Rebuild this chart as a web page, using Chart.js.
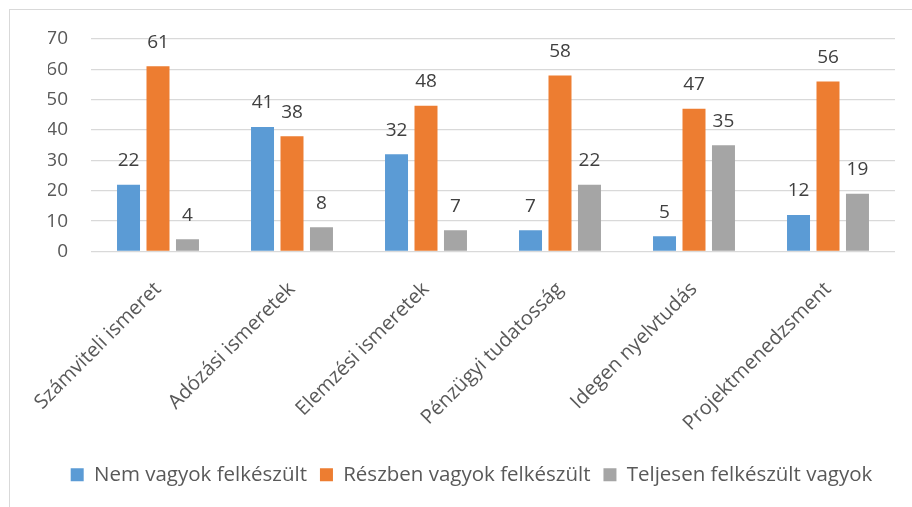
<!DOCTYPE html>
<html>
<head>
<meta charset="utf-8">
<script src="https://cdn.jsdelivr.net/npm/chart.js@4.4.0/dist/chart.umd.min.js"></script>
<style>
  html, body { margin: 0; padding: 0; background: #fff; overflow: hidden; }
  #wrap { position: relative; width: 912px; height: 507px; }
  #frame { position: absolute; left: 9px; top: 9px; width: 920px; height: 520px; border: 1.5px solid #d9d9d9; }
  #myChart { position: absolute; left: 0; top: 0; }
</style>
</head>
<body>
<div id="wrap">
  <div id="frame"></div>
  <canvas id="myChart" width="912" height="507"></canvas>
</div>
<script>
// categories and series
var categories = ['Számviteli ismeret', 'Adózási ismeretek', 'Elemzési ismeretek', 'Pénzügyi tudatosság', 'Idegen nyelvtudás', 'Projektmenedzsment'];
var nemFelkeszult = [22, 41, 32, 7, 5, 12];
var reszbenFelkeszult = [61, 38, 48, 58, 47, 56];
var teljesenFelkeszult = [4, 8, 7, 22, 35, 19];
var seriesNames = ['Nem vagyok felkészült', 'Részben vagyok felkészült', 'Teljesen felkészült vagyok'];
var yTicks = [0, 10, 20, 30, 40, 50, 60, 70];

var fontFamily = '"Open Sans", "Noto Sans", sans-serif';

// draws the value above each bar
var valueLabels = {
    id: 'valueLabels',
    afterDatasetsDraw: function(chart) {
        var ctx = chart.ctx;
        ctx.save();
        ctx.font = '19px ' + fontFamily;
        ctx.fillStyle = '#404040';
        ctx.textAlign = 'center';
        ctx.textBaseline = 'middle';
        chart.data.datasets.forEach(function(ds, i) {
            var meta = chart.getDatasetMeta(i);
            meta.data.forEach(function(bar, j) {
                ctx.fillText(String(ds.data[j]), bar.x, bar.y - 24);
            });
        });
        ctx.restore();
    }
};

function createChart() {
    var ctx = document.getElementById('myChart').getContext('2d');
    new Chart(ctx, {
        type: 'bar',
        data: {
            labels: categories,
            datasets: [
                { label: seriesNames[0], data: nemFelkeszult, backgroundColor: '#5B9BD5' },
                { label: seriesNames[1], data: reszbenFelkeszult, backgroundColor: '#ED7D31' },
                { label: seriesNames[2], data: teljesenFelkeszult, backgroundColor: '#A5A5A5' }
            ]
        },
        options: {
            responsive: false,
            animation: false,
            categoryPercentage: 0.66,
            barPercentage: 0.78,
            // left padding nudges the centred legend to the right
            layout: { padding: { top: 39, right: 17, left: 48, bottom: 12 } },
            plugins: {
                tooltip: { enabled: false },
                legend: {
                    position: 'bottom',
                    labels: {
                        boxWidth: 13,
                        boxHeight: 13,
                        padding: 13,
                        color: '#595959',
                        font: { family: fontFamily, size: 20.5 }
                    }
                }
            },
            scales: {
                x: {
                    afterFit: function(scale) { scale.height = 200; },
                    grid: { display: false },
                    border: { display: false },
                    ticks: {
                        minRotation: 45,
                        maxRotation: 45,
                        padding: 18,
                        color: '#595959',
                        font: { family: fontFamily, size: 20 }
                    }
                },
                y: {
                    min: 0,
                    max: 70,
                    afterFit: function(scale) { scale.width = 43; },
                    afterBuildTicks: function(scale) {
                        scale.ticks = yTicks.map(function(v) { return { value: v }; });
                    },
                    grid: { color: '#d9d9d9', lineWidth: 1.3, drawTicks: false },
                    border: { display: false },
                    ticks: {
                        padding: 23,
                        color: '#595959',
                        font: { family: fontFamily, size: 19 }
                    }
                }
            }
        },
        plugins: [valueLabels]
    });
}

createChart();
</script>
</body>
</html>
